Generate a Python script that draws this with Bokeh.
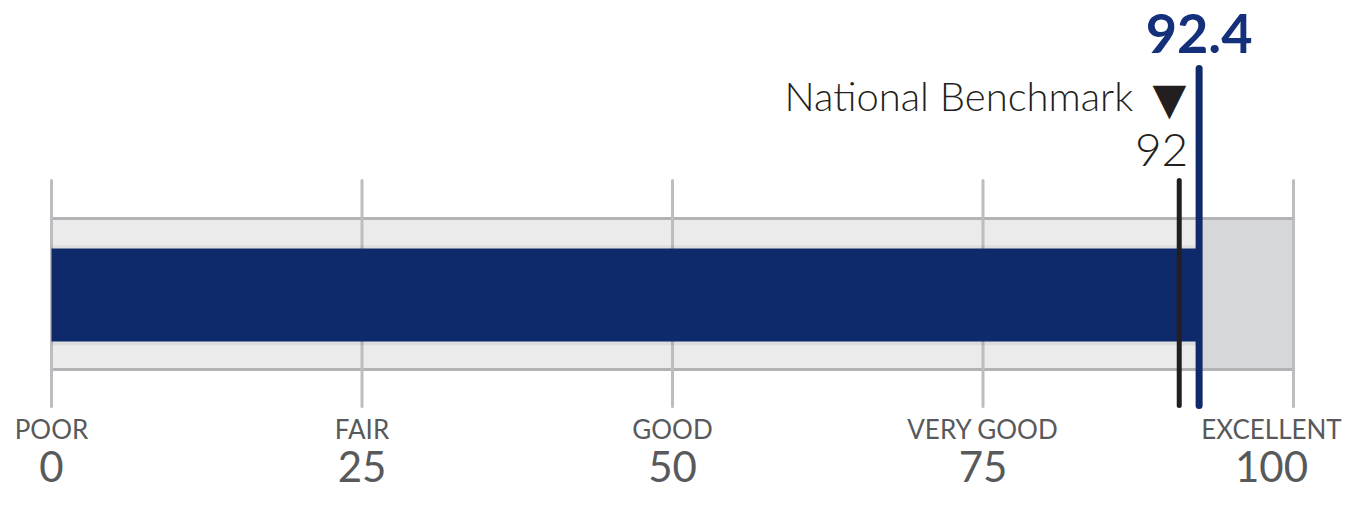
from bokeh.plotting import figure
from bokeh.models import Range1d, ColumnDataSource
from bokeh.core.properties import value
from bokeh.embed import file_html
from bokeh.resources import INLINE

# ---- data ----
tick_values = [0, 25, 50, 75, 100]
tick_names = ["POOR", "FAIR", "GOOD", "VERY GOOD", "EXCELLENT"]
tick_texts = ["0", "25", "50", "75", "100"]
score = 92.4
score_label = "92.4"
benchmark = 92
benchmark_label = "92"
benchmark_title = "National Benchmark"
scale_min, scale_max = 0, 100

# ---- layout / style ----
W, H = 1346, 492
PX = 12.42                 # pixels per scale unit
LEFT = 51                  # pixel position of scale_min
x0 = -LEFT / PX
BENCH_GAP = 1.2            # drawn gap so the benchmark line clears the score line
BLUE = "#0f2a6b"
DARK = "#231f20"
GRID = "#bcbdc0"
TXT = "#58595b"
FONT = "Lato"

p = figure(width=W, height=H, output_backend="svg", toolbar_location=None,
           x_range=Range1d(x0, x0 + W / PX), y_range=Range1d(H, 0),
           min_border=0, outline_line_color=None)
p.axis.visible = False
p.grid.visible = False
p.background_fill_color = "white"
p.border_fill_color = "white"

# background band
p.quad(left=[scale_min], right=[score], top=[218], bottom=[369],
       fill_color="#ebebec", line_color=None)
p.quad(left=[score], right=[scale_max], top=[218], bottom=[369],
       fill_color="#d6d7d9", line_color=None)
p.segment(x0=[scale_min, scale_min], x1=[scale_max, scale_max], y0=[218, 369], y1=[218, 369],
          line_color="#b3b3b5", line_width=3)

# grid lines
p.segment(x0=tick_values, x1=tick_values, y0=[180] * 5, y1=[406] * 5,
          line_color=GRID, line_width=3, line_cap="round")

# shadow + score bar
p.quad(left=[scale_min], right=[score], top=[245], bottom=[345],
       fill_color="#000000", fill_alpha=0.06, line_color=None)
p.quad(left=[scale_min], right=[score], top=[248], bottom=[341],
       fill_color=BLUE, line_color=None)

# benchmark line
bx = benchmark - BENCH_GAP
p.segment(x0=[bx], x1=[bx], y0=[180], y1=[405], line_color=DARK, line_width=5, line_cap="round")
# score line
p.segment(x0=[score], x1=[score], y0=[68], y1=[405], line_color=BLUE, line_width=7, line_cap="round")

# score label
p.text(x=[score], y=[33], text=[score_label], text_font=value(FONT), text_font_style="bold",
       text_font_size="54px", text_color="#14307a", text_align="center", text_baseline="middle")

# benchmark texts
p.text(x=[bx], y=[95], text=[benchmark_title], text_font=value("Lato Light"),
       text_font_size="40px", text_color=DARK, text_align="right", text_baseline="middle",
       x_offset=-46)
p.text(x=[bx], y=[98], text=["▼"], text_font=value("DejaVu Sans"),
       text_font_size="44px", text_color=DARK, text_align="right", text_baseline="middle",
       x_offset=7)
p.text(x=[bx], y=[149], text=[benchmark_label], text_font=value("Lato Light"),
       text_font_size="46px", text_color=DARK, text_align="right", text_baseline="middle",
       x_offset=9)

# tick labels
offs = [0, 0, 0, 0, -22]
src = ColumnDataSource(dict(x=tick_values, name=tick_names, num=tick_texts, off=offs))
p.text(x="x", y=428, text="name", source=src, x_offset="off", text_font=value(FONT),
       text_font_size="26px", text_color=TXT, text_align="center", text_baseline="middle")
p.text(x="x", y=466, text="num", source=src, x_offset="off", text_font=value(FONT),
       text_font_size="42px", text_color=TXT, text_align="center", text_baseline="middle")

open("out.html", "w").write(file_html(p, INLINE))
